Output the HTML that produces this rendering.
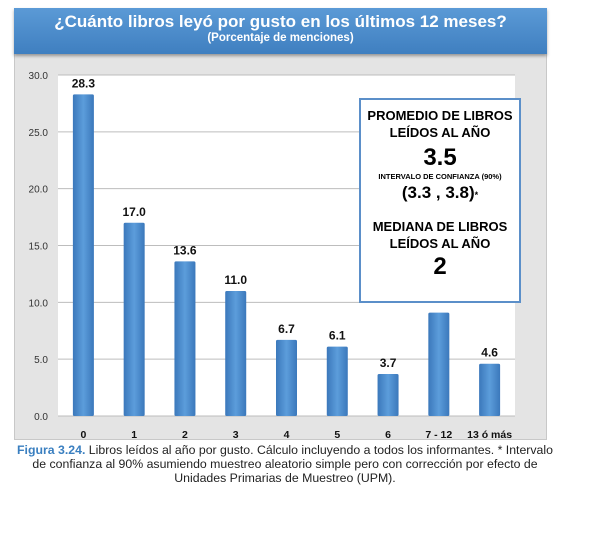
<!DOCTYPE html>
<html><head><meta charset="utf-8"><style>
body{margin:0;width:600px;height:548px;background:#fff;position:relative;font-family:"Liberation Sans",sans-serif;overflow:hidden}
#panel{position:absolute;left:14px;top:8px;width:533px;height:432px;background:#e4e4e4;border:1px solid #c8c8c8;box-sizing:border-box}
#header{position:absolute;left:14px;top:8px;width:533px;height:46px;background:linear-gradient(#5b9ad6,#3f7fc0);box-shadow:0 2px 3px rgba(0,0,0,.35);color:#fff;text-align:center;font-weight:bold}
#box{position:absolute;left:359px;top:98px;width:162px;height:205px;background:#fff;border:2px solid #5b8fc9;box-sizing:border-box;text-align:center;font-weight:bold;color:#000}
#caption{position:absolute;left:0;top:443px;width:570px;text-align:center;font-size:12.3px;line-height:14px;color:#222}
</style></head><body>
<div id="panel"></div>
<div id="header">
<div style="font-size:17px;margin-top:4px">¿Cuánto libros leyó por gusto en los últimos 12 meses?</div>
<div style="font-size:11.5px;margin-top:0px">(Porcentaje de menciones)</div>
</div>
<svg id="chart" width="600" height="548" style="position:absolute;left:0;top:0">
<defs><linearGradient id="bg" x1="0" x2="1"><stop offset="0" stop-color="#3b78bb"/><stop offset="0.5" stop-color="#5c9ddb"/><stop offset="1" stop-color="#3b78bb"/></linearGradient></defs>
<rect x="58" y="75" width="457" height="341" fill="#fff"/>
<g id="grid"></g><g id="bars"></g><g id="labels"></g>
</svg>
<div id="box">
<div style="font-size:13px;line-height:17px;margin-top:7px">PROMEDIO DE LIBROS<br>LEÍDOS AL AÑO</div>
<div style="font-size:24px;line-height:28px;margin-top:3px">3.5</div>
<div style="font-size:7.5px;line-height:10px">INTERVALO DE CONFIANZA (90%)</div>
<div style="font-size:17px;line-height:22px">(3.3 , 3.8)<span style="font-size:9px">*</span></div>
<div style="font-size:13px;line-height:17px;margin-top:12px">MEDIANA DE LIBROS<br>LEÍDOS AL AÑO</div>
<div style="font-size:24px;line-height:30px">2</div>
</div>
<div id="caption"><span style="color:#3a7fc0;font-weight:bold">Figura 3.24.</span> Libros leídos al año por gusto. Cálculo incluyendo a todos los informantes. * Intervalo<br>de confianza al 90% asumiendo muestreo aleatorio simple pero con corrección por efecto de<br>Unidades Primarias de Muestreo (UPM).</div>
<script>
const categories=["0","1","2","3","4","5","6","7 - 12","13 ó más"];
const values=[28.3,17.0,13.6,11.0,6.7,6.1,3.7,9.1,4.6];
const showLabel=[true,true,true,true,true,true,true,false,true];
const ticks=[0,5,10,15,20,25,30];
const X0=58,X1=515,Y0=416,Y1=75,MAX=30;
const y=v=>Y0-(v/MAX)*(Y0-Y1);
const band=(X1-X0)/categories.length;
const x=i=>X0+band*(i+0.5);
const NS="http://www.w3.org/2000/svg";
function mk(t,a,p){const e=document.createElementNS(NS,t);for(const k in a)e.setAttribute(k,a[k]);p.appendChild(e);return e;}
const g=document.getElementById('grid'),b=document.getElementById('bars'),l=document.getElementById('labels');
ticks.forEach(t=>{
 const ln=mk('line',{x1:X0,x2:X1,y1:y(t),y2:y(t),stroke:'#bdbdbd','stroke-width':1},g);
 
 
 const tx=mk('text',{x:48,y:y(t)+4,'text-anchor':'end','font-size':10,fill:'#333','font-family':'Liberation Sans'},g);
 tx.textContent=t.toFixed(1);
 
 
});
values.forEach((v,i)=>{
 const r=mk('rect',{x:x(i)-10.5,y:y(v),width:21,height:Y0-y(v),fill:'url(#bg)',rx:1.5},b);
 
 
 if(showLabel[i]){
  const t=mk('text',{x:x(i),y:y(v)-7,'text-anchor':'middle','font-size':12,'font-weight':'bold',fill:'#111','font-family':'Liberation Sans'},l);
  t.textContent=v.toFixed(1);
  
  
 }
 const c=mk('text',{x:x(i),y:438,'text-anchor':'middle','font-size':10.5,'font-weight':'bold',fill:'#111','font-family':'Liberation Sans'},l);
 c.textContent=categories[i];
 
 
});
</script>
</body></html>
